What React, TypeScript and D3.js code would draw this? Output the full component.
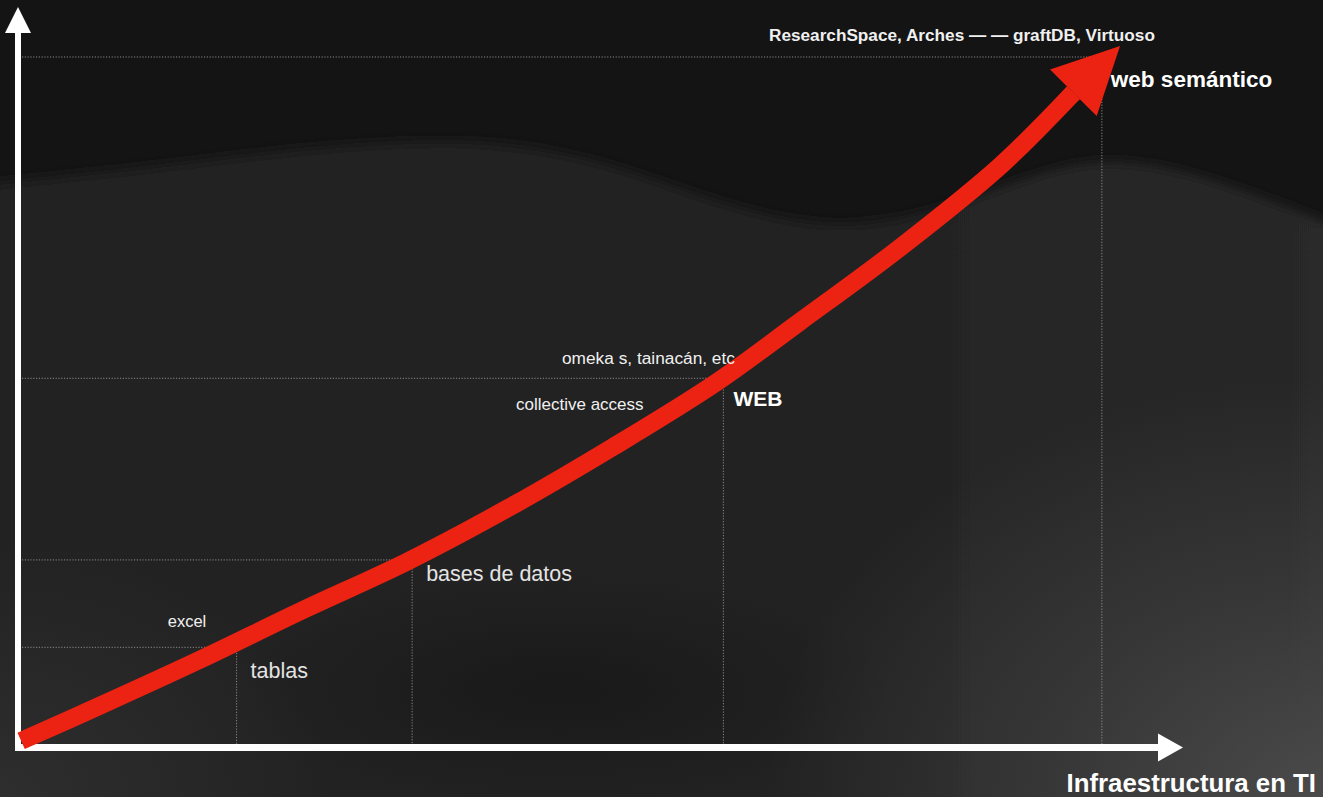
import React from "react";
import * as d3 from "d3";

// ---- data ----
const stages = ["tablas", "bases de datos", "WEB", "web semántico"];
const stageX = [19.0, 34.4, 61.7, 94.9];
const stageY = [14.2, 26.9, 53.3, 100];

const toolLabels = ["excel", "collective access", "omeka s, tainacán, etc", "ResearchSpace, Arches — — graftDB, Virtuoso"];

const curveX = [0.1, 7.0, 15.8, 24.8, 33.9, 43.0, 52.0, 61.0, 68.4, 77.2, 86.0, 92.4];
const curveY = [0.6, 5.7, 12.4, 19.6, 26.6, 34.6, 43.3, 52.6, 61.5, 72.3, 84.2, 94.8];

const axisTitle = "Infraestructura en TI";

// ---- layout / style (not data) ----
const W = 1323;
const H = 797;
const FONT = "'Liberation Sans', Arial, Helvetica, sans-serif";

const stageStyle = [
  { dx: 14, dy: 31, size: 21.5, weight: 400, fill: "#e4e4e4" },
  { dx: 14, dy: 21, size: 21.5, weight: 400, fill: "#e4e4e4" },
  { dx: 10, dy: 28, size: 21, weight: 700, fill: "#ffffff" },
  { dx: 9, dy: 30, size: 22.5, weight: 700, fill: "#ffffff" },
];
const toolStyle = [
  { x: 187, y: 627, anchor: "middle", size: 16.5, weight: 400 },
  { x: 516, y: 410, anchor: "start", size: 17, weight: 400 },
  { x: 562, y: 364, anchor: "start", size: 17.3, weight: 400 },
  { x: 769, y: 41, anchor: "start", size: 17.2, weight: 700 },
];

const dunePts: [number, number][] = [
  [-20, 185], [150, 168], [300, 148], [470, 137], [600, 158], [720, 205],
  [840, 233], [950, 208], [1050, 168], [1110, 158], [1200, 172], [1340, 228],
];

export default function App() {
  const xScale = d3.scaleLinear().domain([0, 100]).range([20, 1160]);
  const yScale = d3.scaleLinear().domain([0, 100]).range([745, 57]);

  const pts: [number, number][] = curveX.map((x, i) => [x, curveY[i]]);
  const line = d3
    .line<[number, number]>()
    .x((d) => xScale(d[0]))
    .y((d) => yScale(d[1]))
    .curve(d3.curveCatmullRom.alpha(0.5));
  const curvePath = line(pts) || "";

  // arrowhead from tangent at end
  const n = pts.length;
  const ex = xScale(pts[n - 1][0]);
  const ey = yScale(pts[n - 1][1]);
  const px = xScale(pts[n - 2][0]);
  const py = yScale(pts[n - 2][1]);
  const len = Math.hypot(ex - px, ey - py);
  const ux = (ex - px) / len;
  const uy = (ey - py) / len;
  const headLen = 66;
  const headHalf = 33;
  const tip = [ex + ux * headLen, ey + uy * headLen];
  const b1 = [ex - uy * headHalf, ey + ux * headHalf];
  const b2 = [ex + uy * headHalf, ey - ux * headHalf];
  const backX = ex - ux * 3;
  const backY = ey - uy * 3;

  const duneLine = d3.line().curve(d3.curveBasis);
  const dunePath =
    (duneLine(dunePts) || "") + `L${W + 20},${H + 20}L-20,${H + 20}Z`;

  const x0 = xScale(0);
  const y0 = yScale(0);
  const axisY = y0 + 2.5;
  const axisX = 18;

  return (
    <svg
      width={W}
      height={H}
      viewBox={`0 0 ${W} ${H}`}
      style={{ position: "absolute", left: 0, top: 0, display: "block" }}
      fontFamily={FONT}
    >
      <defs>
        <filter id="blur" filterUnits="userSpaceOnUse" x={-60} y={-60} width={W + 120} height={H + 120}>
          <feGaussianBlur stdDeviation="6" />
        </filter>
        <linearGradient id="duneFill" x1="0" y1="0" x2="1" y2="0">
          <stop offset="0" stopColor="#222222" />
          <stop offset="0.5" stopColor="#212121" />
          <stop offset="1" stopColor="#292929" />
        </linearGradient>
        <radialGradient id="lightBR">
          <stop offset="0" stopColor="#4a4a4a" stopOpacity="1" />
          <stop offset="0.5" stopColor="#4a4a4a" stopOpacity="0.45" />
          <stop offset="1" stopColor="#4a4a4a" stopOpacity="0" />
        </radialGradient>
        <radialGradient id="lightBL">
          <stop offset="0" stopColor="#2e2e2e" stopOpacity="1" />
          <stop offset="1" stopColor="#2e2e2e" stopOpacity="0" />
        </radialGradient>
        <radialGradient id="darkC">
          <stop offset="0" stopColor="#171717" stopOpacity="0.8" />
          <stop offset="1" stopColor="#171717" stopOpacity="0" />
        </radialGradient>
      </defs>

      {/* background */}
      <rect x={0} y={0} width={W} height={H} fill="#141414" />
      <path d={dunePath} fill="url(#duneFill)" filter="url(#blur)" />
      <ellipse cx={560} cy={690} rx={330} ry={120} fill="url(#darkC)" />
      <ellipse cx={W} cy={H} rx={560} ry={420} fill="url(#lightBR)" />
      <ellipse cx={0} cy={H} rx={330} ry={260} fill="url(#lightBL)" />

      {/* dotted guides */}
      <g stroke="#9c9c9c" strokeWidth={1} strokeDasharray="1.2,1.6" fill="none" opacity={0.85}>
        {stages.map((s, i) => (
          <g key={s}>
            <line x1={x0 + 2} x2={xScale(stageX[i])} y1={yScale(stageY[i])} y2={yScale(stageY[i])} />
            <line x1={xScale(stageX[i])} x2={xScale(stageX[i])} y1={yScale(stageY[i])} y2={y0} />
          </g>
        ))}
      </g>

      {/* axes */}
      <g fill="#ffffff" stroke="none">
        <rect x={axisX - 3} y={30} width={6} height={axisY + 3.5 - 30} />
        <polygon points={`${axisX - 13},${33} ${axisX},${7} ${axisX + 13},${33}`} />
        <rect x={axisX - 3} y={axisY - 3.5} width={1160 - axisX + 3} height={7} />
        <polygon points={`${1158},${axisY - 14} ${1183},${axisY} ${1158},${axisY + 14}`} />
      </g>

      {/* growth curve */}
      <path d={curvePath} fill="none" stroke="#ec2313" strokeWidth={18} strokeLinecap="butt" />
      <polygon
        points={`${backX - uy * 9},${backY + ux * 9} ${backX + uy * 9},${backY - ux * 9} ${ex + uy * 9},${ey - ux * 9} ${ex - uy * 9},${ey + ux * 9}`}
        fill="#ec2313"
      />
      <polygon points={`${tip[0]},${tip[1]} ${b1[0]},${b1[1]} ${b2[0]},${b2[1]}`} fill="#ec2313" />

      {/* stage labels */}
      {stages.map((s, i) => (
        <text
          key={s}
          x={xScale(stageX[i]) + stageStyle[i].dx}
          y={yScale(stageY[i]) + stageStyle[i].dy}
          fontSize={stageStyle[i].size}
          fontWeight={stageStyle[i].weight}
          fill={stageStyle[i].fill}
        >
          {s}
        </text>
      ))}

      {/* tool labels */}
      {toolLabels.map((t, i) => (
        <text
          key={t}
          x={toolStyle[i].x}
          y={toolStyle[i].y}
          textAnchor={toolStyle[i].anchor as any}
          fontSize={toolStyle[i].size}
          fontWeight={toolStyle[i].weight}
          fill="#f0f0f0"
        >
          {t}
        </text>
      ))}

      {/* axis title */}
      <text x={1316} y={792} textAnchor="end" fontSize={25.8} fontWeight={700} fill="#ffffff">
        {axisTitle}
      </text>
    </svg>
  );
}
